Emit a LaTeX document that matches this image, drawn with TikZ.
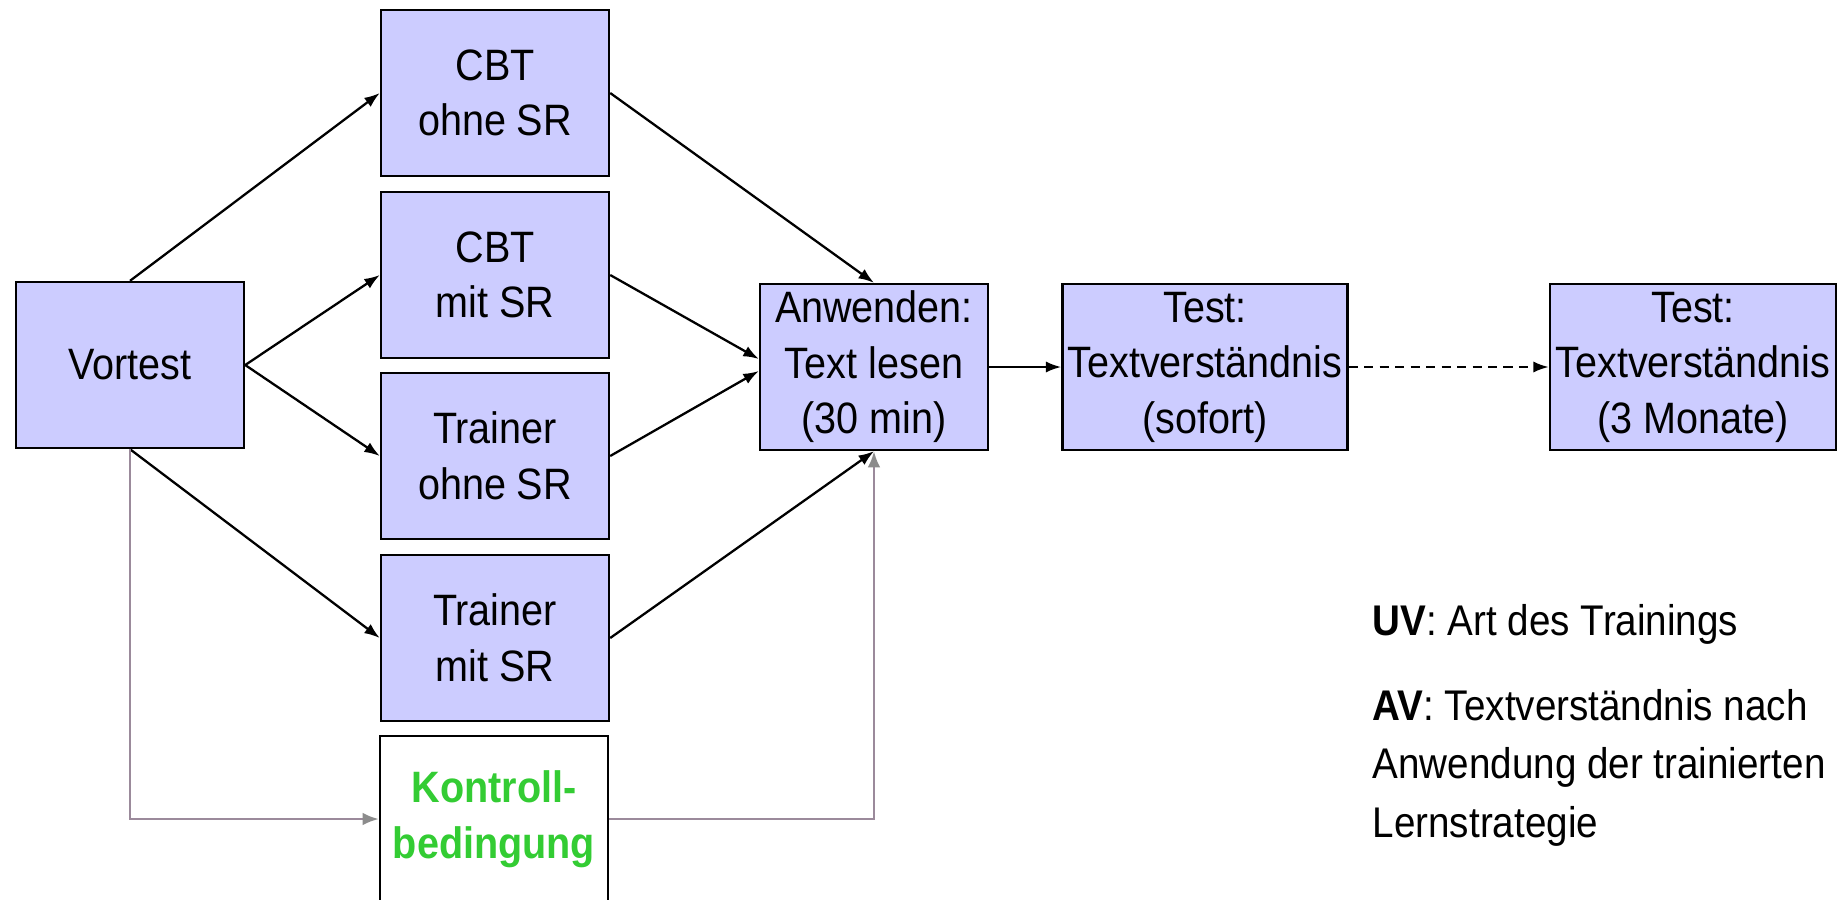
\documentclass[tikz,border=0pt]{standalone}
\usepackage{fontspec}
\setmainfont{Liberation Sans}[FakeStretch=0.9]
\usepackage{tikz}
\usetikzlibrary{shapes,arrows,arrows.meta}
\definecolor{boxblue}{RGB}{204,204,255}
\definecolor{kgreen}{RGB}{51,204,51}
\definecolor{kgrey}{RGB}{155,138,155}
\definecolor{tipgrey}{RGB}{140,140,140}
\tikzstyle{box} = [draw, line width=0.65pt, fill=boxblue, minimum width=2.28cm, minimum height=1.66cm, align=center, inner sep=0pt, font=\fontsize{12.5}{15.8}\selectfont]
\tikzstyle{arrow} = [draw, line width=0.65pt, -{Latex[length=4.4pt, width=3.2pt]}]
\tikzstyle{greyarrow} = [draw, kgrey, line width=0.7pt, -{Latex[length=4.6pt, width=3.6pt, color=tipgrey]}]

\begin{document}
\begin{tikzpicture}[x=0.01cm, y=-0.01cm]
            \useasboundingbox (0,0) rectangle (1845,899);

            \node[box] (vortest) at (130,365) {Vortest};
            \node[box] (cbtohne) at (495,93) {CBT\\ohne SR};
            \node[box] (cbtmit) at (495,275) {CBT\\mit SR};
            \node[box] (trohne) at (495,456) {Trainer\\ohne SR};
            \node[box] (trmit) at (495,638) {Trainer\\mit SR};
            \node[box, fill=white, text=kgreen, font=\fontsize{12.5}{15.8}\selectfont\bfseries] (kontroll) at (494,819) {Kontroll-\\bedingung};
            \node[box] (anwenden) at (874,367) {Anwenden:\\Text lesen\\(30 min)};
            \node[box, minimum width=2.85cm] (test1) at (1205,367) {Test:\\Textverständnis\\(sofort)};
            \node[box, minimum width=2.86cm] (test2) at (1693,367) {Test:\\Textverständnis\\(3 Monate)};

            \draw[arrow] (vortest.north) -- (cbtohne.west);
            \draw[arrow] (vortest.east) -- (cbtmit.west);
            \draw[arrow] (vortest.east) -- (trohne.west);
            \draw[arrow] (vortest.south) -- (trmit.west);
            \draw[arrow] (cbtohne.east) -- (anwenden.north);
            \draw[arrow] (cbtmit.east) -- ([yshift=0.08cm]anwenden.west);
            \draw[arrow] (trohne.east) -- ([yshift=-0.04cm]anwenden.west);
            \draw[arrow] (trmit.east) -- (anwenden.south);
            \draw[greyarrow] (vortest.south) |- (kontroll.west);
            \draw[greyarrow] (kontroll.east) -| (anwenden.south);
            \draw[arrow] (anwenden) -- (test1);
            \draw[arrow, dash pattern=on 2.6pt off 1.8pt] (test1) -- (test2);

            % Legende
            \node[anchor=base west, inner sep=0pt, font=\fontsize{12.2}{16.6}\selectfont] (uv) at (1372,635) {\textbf{UV}: Art des Trainings};
            \node[anchor=base west, align=left, inner sep=0pt, font=\fontsize{12.2}{16.6}\selectfont] (av) at (1372,837) {\textbf{AV}: Textverständnis nach\\Anwendung der trainierten\\Lernstrategie};
          \end{tikzpicture}
\end{document}
